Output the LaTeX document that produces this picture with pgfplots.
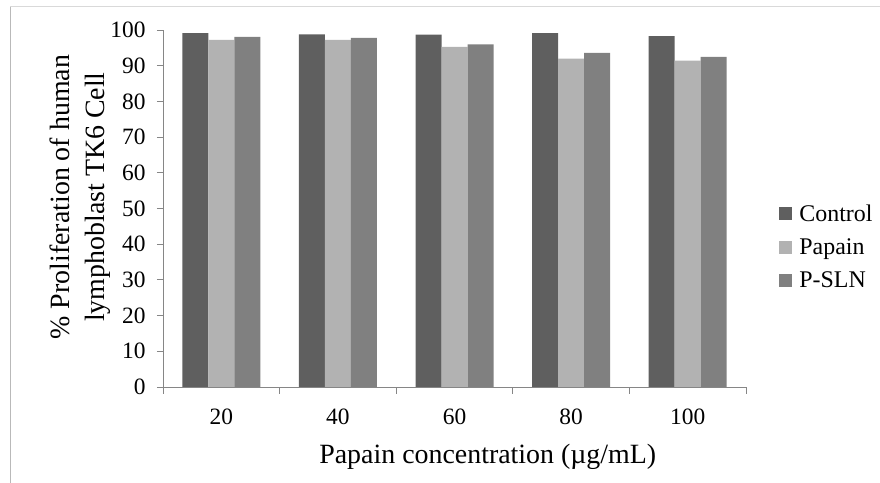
\documentclass[border=0pt]{standalone}
\usepackage{pgfplots}
\pgfplotsset{compat=1.18}
\usepackage{fontspec}
\setmainfont{Liberation Serif}
\definecolor{cctrl}{HTML}{5F5F5F}
\definecolor{cpap}{HTML}{B2B2B2}
\definecolor{cpsln}{HTML}{808080}
\definecolor{axgray}{HTML}{868686}
\begin{document}
\begin{tikzpicture}
\useasboundingbox (0,0) rectangle (880bp,483bp);
\draw[line width=1bp, color=gray!55] (10bp,0) -- (10bp,476bp);
\draw[line width=1bp, color=gray!30] (10bp,476bp) -- (880bp,476bp);
\begin{axis}[
    at={(163bp,96bp)}, anchor=south west,
    scale only axis, width=583bp, height=357bp,
    ybar=0pt, bar width=26bp,
    xmin=0.5, xmax=5.5, ymin=0, ymax=100,
    axis x line*=bottom, axis y line*=left,
    axis line style={axgray, line width=0.8bp},
    xtick={1,2,3,4,5}, xticklabels={20,40,60,80,100},
    major x tick style={draw=none},
    minor xtick={0.5,1.5,2.5,3.5,4.5,5.5},
    minor tick length=7bp,
    ytick={0,10,...,100},
    major tick length=6bp,
    tick align=outside,
    tick style={axgray, line width=0.8bp},
    /pgf/number format/assume math mode=true,
    tick label style={font=\fontsize{23.5}{27}\selectfont},
    xticklabel style={yshift=-12bp},
    yticklabel style={xshift=-8bp},
    xlabel={Papain concentration (µg/mL)},
    xlabel style={font=\fontsize{28}{34}\selectfont, at={(axis description cs:0.557,-0.213)}, anchor=base},
    ylabel={\% Proliferation of human\\lymphoblast TK6 Cell},
    ylabel style={font=\fontsize{28}{35}\selectfont, align=center, at={(axis description cs:-0.142,0.532)}, anchor=center},
    legend style={at={(axis description cs:1.057,0.392)}, anchor=west, draw=none, fill=none,
        font=\fontsize{24}{28}\selectfont, row sep=12bp, inner sep=0pt,
        /tikz/every odd column/.append style={column sep=5bp}},
    legend image code/.code={\fill[#1] (0bp,-6.5bp) rectangle (13bp,6.5bp);},
    legend cell align=left,
]
\addplot[fill=cctrl, draw=none] coordinates {(1,99.1) (2,98.8) (3,98.7) (4,99.1) (5,98.3)};
\addplot[fill=cpap, draw=none] coordinates {(1,97.2) (2,97.2) (3,95.3) (4,92.0) (5,91.4)};
\addplot[fill=cpsln, draw=none] coordinates {(1,98.1) (2,97.8) (3,96.0) (4,93.6) (5,92.5)};
\legend{Control, Papain, P-SLN}
\end{axis}
\end{tikzpicture}
\end{document}
